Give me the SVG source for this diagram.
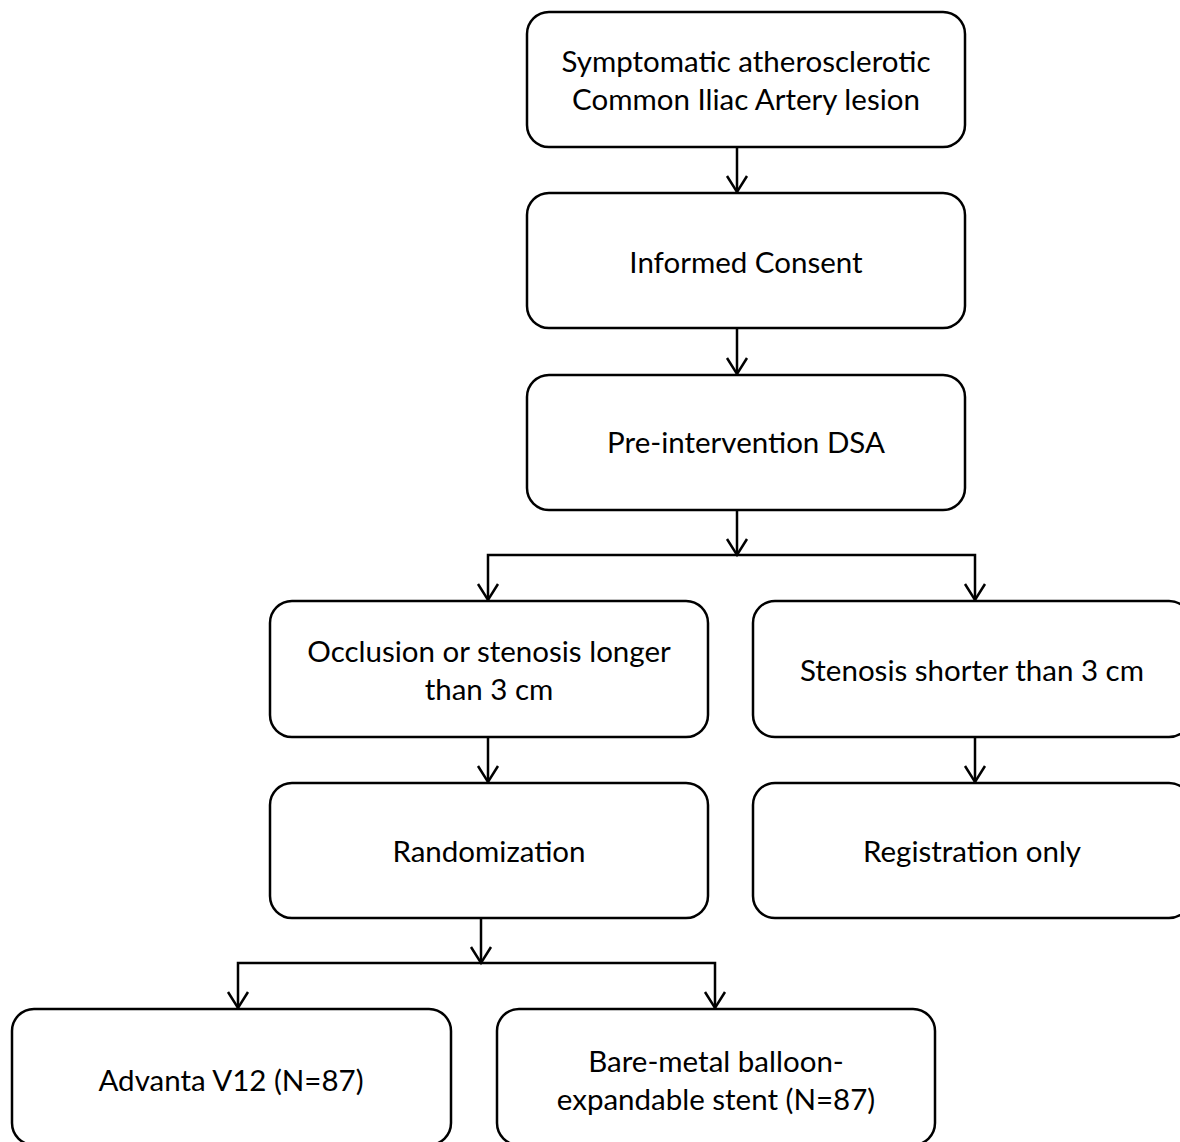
<svg xmlns="http://www.w3.org/2000/svg" width="1180" height="1142" viewBox="0 0 1180 1142">
<defs>
<style>
.box{fill:#fff;stroke:#000;stroke-width:2.5}
.t{font-family:Lato,"Open Sans","Liberation Sans",sans-serif;font-size:29.5px;fill:#000;text-anchor:middle}
.c{fill:none;stroke:#000;stroke-width:2.5}
</style>
<marker id="ah" markerWidth="24" markerHeight="24" refX="17" refY="12" viewBox="0 0 24 24" markerUnits="userSpaceOnUse" orient="auto">
<path d="M1,2 L17,12 L1,22" fill="none" stroke="#000" stroke-width="2.5"/>
</marker>
</defs>
<rect width="1180" height="1142" fill="#fff"/>
<g id="connectors">
<path class="c" d="M737,147 V192" marker-end="url(#ah)"/>
<path class="c" d="M737,328 V374" marker-end="url(#ah)"/>
<path class="c" d="M737,510 V555" marker-end="url(#ah)"/>
<path class="c" d="M737,555 H975 V600" marker-end="url(#ah)"/>
<path class="c" d="M737,555 H488 V600" marker-end="url(#ah)"/>
<path class="c" d="M488,737 V782" marker-end="url(#ah)"/>
<path class="c" d="M975,737 V782" marker-end="url(#ah)"/>
<path class="c" d="M481,918 V963" marker-end="url(#ah)"/>
<path class="c" d="M481,963 H715 V1008" marker-end="url(#ah)"/>
<path class="c" d="M481,963 H238 V1008" marker-end="url(#ah)"/>
</g>
<g id="n1"><rect class="box" x="527" y="12" width="438" height="135" rx="22"/>
<text class="t" x="746" y="72">Symptomatic atherosclerotic</text>
<text class="t" x="746" y="110">Common Iliac Artery lesion</text></g>
<g id="n2"><rect class="box" x="527" y="193" width="438" height="135" rx="22"/>
<text class="t" x="746" y="273">Informed Consent</text></g>
<g id="n3"><rect class="box" x="527" y="375" width="438" height="135" rx="22"/>
<text class="t" x="746" y="453">Pre-intervention DSA</text></g>
<g id="n4"><rect class="box" x="270" y="601" width="438" height="136" rx="22"/>
<text class="t" x="489" y="662">Occlusion or stenosis longer</text>
<text class="t" x="489" y="700">than 3 cm</text></g>
<g id="n5"><rect class="box" x="753" y="601" width="438" height="136" rx="22"/>
<text class="t" x="972" y="681">Stenosis shorter than 3 cm</text></g>
<g id="n6"><rect class="box" x="270" y="783" width="438" height="135" rx="22"/>
<text class="t" x="489" y="862">Randomization</text></g>
<g id="n7"><rect class="box" x="753" y="783" width="438" height="135" rx="22"/>
<text class="t" x="972" y="862">Registration only</text></g>
<g id="n8"><rect class="box" x="12" y="1009" width="439" height="136" rx="22"/>
<text class="t" x="231" y="1091">Advanta V12 (N=87)</text></g>
<g id="n9"><rect class="box" x="497" y="1009" width="438" height="136" rx="22"/>
<text class="t" x="716" y="1072">Bare-metal balloon-</text>
<text class="t" x="716" y="1110">expandable stent (N=87)</text></g>
</svg>
